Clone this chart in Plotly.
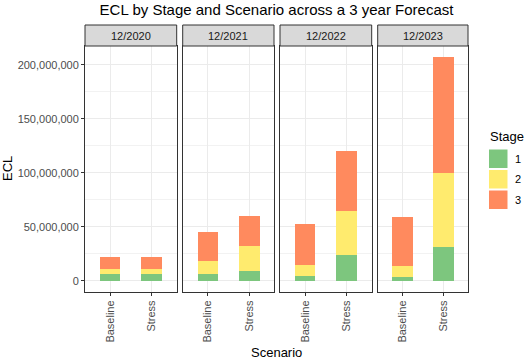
import plotly.graph_objects as go

# ---- data ----
years = ["12/2020", "12/2021", "12/2022", "12/2023"]
scenarios = ["Baseline", "Stress"]
stages = ["1", "2", "3"]
stage_colors = ["#7DC67E", "#FFEB6E", "#FF8A5E"]

# ECL per stage, per year: [Baseline, Stress]
stage1 = [[6.2e6, 6.2e6], [6.2e6, 8.7e6], [4.3e6, 23.8e6], [3.4e6, 31.2e6]]
stage2 = [[4.9e6, 4.9e6], [11.8e6, 23.4e6], [10.2e6, 40.7e6], [10.2e6, 68.2e6]]
stage3 = [[10.8e6, 10.8e6], [27.0e6, 27.5e6], [38.3e6, 55.5e6], [45.1e6, 107.6e6]]
stage_data = [stage1, stage2, stage3]

# ---- layout geometry (pixels) ----
W, H = 531, 364
L, R, T, B = 85, 468, 25, 292          # plot area incl. strips
pw, ph = R - L, B - T
strip_h = 21
ydom_top = (ph - strip_h) / ph
panel_px = [(85, 176.7), (182.7, 274), (280, 371.7), (377.7, 468)]
domains = [((a - L) / pw, (b - L) / pw) for a, b in panel_px]

def px_x(x):
    return (x - L) / pw

def px_y(y):
    return (B - y) / ph

fig = go.Figure()
ymax_total = 217.35e6
ymin_total = -10.35e6

for i, yr in enumerate(years):
    ax = "" if i == 0 else str(i + 1)
    for s, name in enumerate(stages):
        fig.add_trace(go.Bar(
            x=scenarios, y=stage_data[s][i], name=name,
            marker=dict(color=stage_colors[s], line=dict(width=0)),
            width=0.5, xaxis="x" + ax, yaxis="y" + ax, showlegend=False,
        ))

grid = "#EBEBEB"
border = "#333333"
FONT = "Liberation Sans, Arial"
tickfont = dict(family=FONT, size=11, color="#4D4D4D")

layout = dict(
    width=W, height=H,
    margin=dict(l=L, r=W - R, t=T, b=H - B, pad=0),
    plot_bgcolor="white", paper_bgcolor="white",
    barmode="stack", bargap=0,
    showlegend=False,
    title=dict(text="ECL by Stage and Scenario across a 3 year Forecast",
               x=px_x(276.5), xref="paper", xanchor="center",
               y=1 - 10 / H, yref="container", yanchor="middle",
               font=dict(family=FONT, size=15, color="black")),
    font=dict(family=FONT),
)

for i in range(4):
    xk = "xaxis" if i == 0 else "xaxis%d" % (i + 1)
    yk = "yaxis" if i == 0 else "yaxis%d" % (i + 1)
    layout[xk] = dict(
        domain=list(domains[i]), anchor="y" if i == 0 else "y%d" % (i + 1),
        type="category", range=[-0.6, 1.6],
        showgrid=True, gridcolor=grid, gridwidth=1,
        showline=True, linecolor=border, linewidth=1, mirror=True,
        ticks="outside", ticklen=3, tickcolor=border,
        tickangle=-90, tickfont=tickfont, zeroline=False,
    )
    layout[yk] = dict(
        domain=[0, ydom_top], anchor="x" if i == 0 else "x%d" % (i + 1),
        range=[ymin_total, ymax_total], tick0=0, dtick=50e6,
        tickformat=",d",
        showgrid=True, gridcolor=grid, gridwidth=1,
        minor=dict(dtick=25e6, tick0=0, showgrid=True, gridcolor="#F2F2F2", gridwidth=0.6),
        showline=True, linecolor=border, linewidth=1, mirror=True,
        ticks="outside" if i == 0 else "", ticklen=3, tickcolor=border,
        showticklabels=(i == 0), tickfont=tickfont, zeroline=False,
    )

fig.update_layout(**layout)

shapes = []
annotations = []
# facet strips
for i, yr in enumerate(years):
    x0, x1 = domains[i]
    shapes.append(dict(type="rect", xref="paper", yref="paper",
                       x0=x0, x1=x1, y0=ydom_top, y1=1,
                       fillcolor="#D9D9D9", line=dict(color=border, width=1)))
    annotations.append(dict(text=yr, xref="paper", yref="paper",
                            x=(x0 + x1) / 2, y=(ydom_top + 1) / 2,
                            showarrow=False, xanchor="center", yanchor="middle",
                            font=dict(family=FONT, size=11, color="#1A1A1A")))

# axis titles
annotations.append(dict(text="ECL", xref="paper", yref="paper",
                        x=px_x(7), y=px_y(169), textangle=-90, showarrow=False,
                        xanchor="center", yanchor="middle",
                        font=dict(family=FONT, size=13, color="black")))
annotations.append(dict(text="Scenario", xref="paper", yref="paper",
                        x=px_x(276.5), y=px_y(352), showarrow=False,
                        xanchor="center", yanchor="middle",
                        font=dict(family=FONT, size=13, color="black")))

# legend
annotations.append(dict(text="Stage", xref="paper", yref="paper",
                        x=px_x(488), y=px_y(136.5), showarrow=False,
                        xanchor="left", yanchor="middle",
                        font=dict(family=FONT, size=13, color="black")))
for s, name in enumerate(stages):
    top = 149.5 + s * 20.5
    shapes.append(dict(type="rect", xref="paper", yref="paper",
                       x0=px_x(489), x1=px_x(507.5), y0=px_y(top + 18.5), y1=px_y(top),
                       fillcolor=stage_colors[s], line=dict(width=0)))
    annotations.append(dict(text=name, xref="paper", yref="paper",
                            x=px_x(513), y=px_y(top + 9.25), showarrow=False,
                            xanchor="left", yanchor="middle",
                            font=dict(family=FONT, size=11, color="black")))

fig.update_layout(shapes=shapes, annotations=annotations)
fig.write_html("out.html", config={"displayModeBar": False},
               post_script="document.body.style.margin='0px';")
